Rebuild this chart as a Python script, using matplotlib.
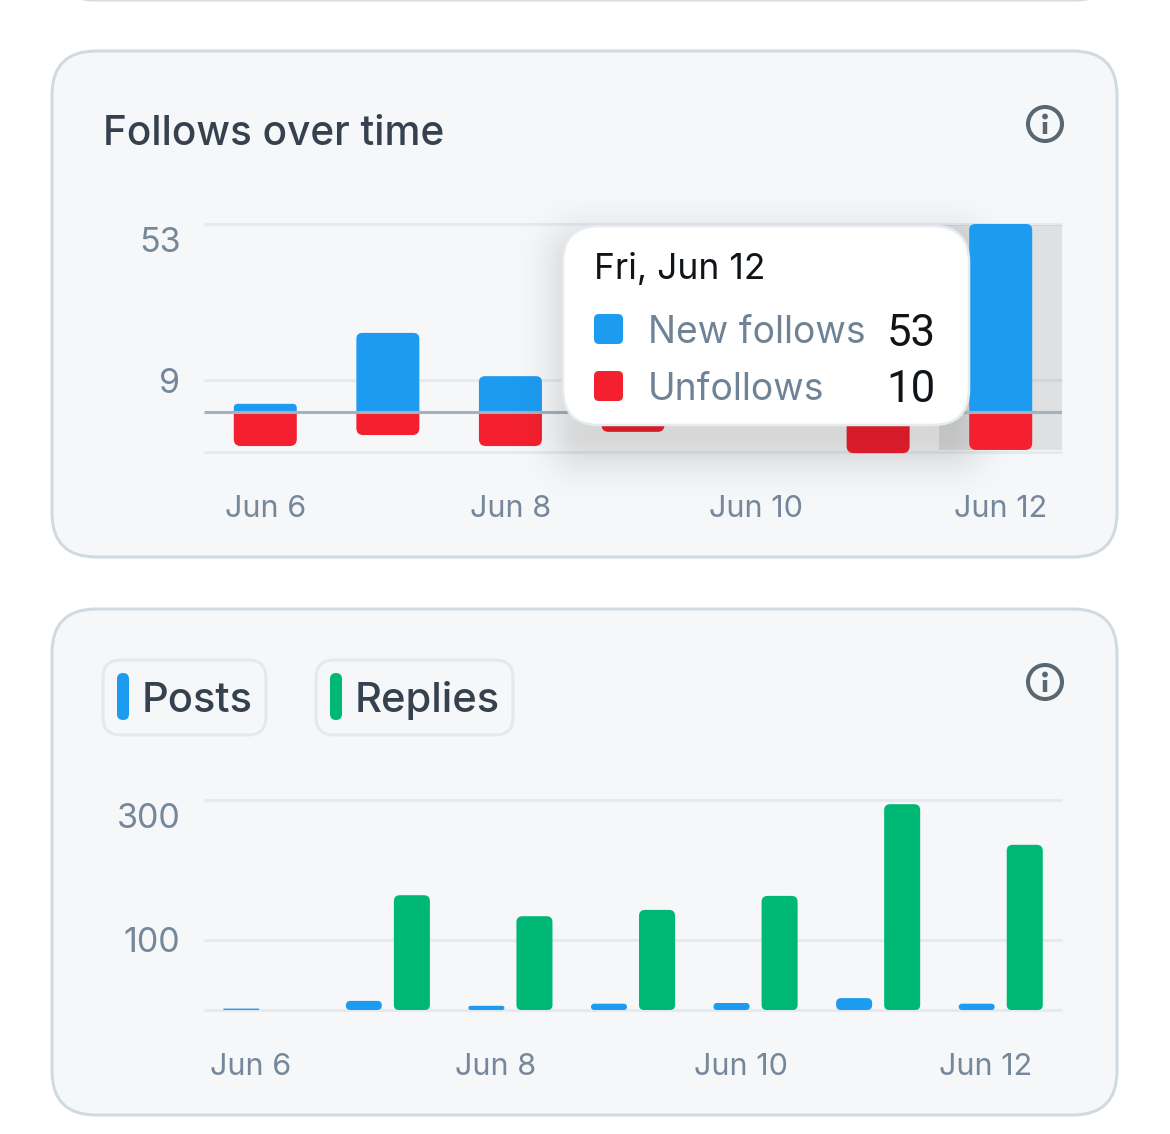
import numpy as np
from matplotlib import pyplot as plt
from matplotlib.patches import FancyBboxPatch, PathPatch, Circle, Rectangle
from matplotlib.path import Path
from matplotlib.transforms import ScaledTranslation

W, H = 1170, 1134
DPI = 100

days = [6, 7, 8, 9, 10, 11, 12]
day_labels = ["Jun 6", "Jun 8", "Jun 10", "Jun 12"]
day_ticks = [6, 8, 10, 12]

new_follows = [2.3, 22.3, 10.1, 12, 8, 30, 53]
unfollows = [9.6, 6.5, 9.6, 5.6, 3, 11.6, 10.7]
follow_ticks = [9, 53]

posts = [2, 13, 6, 9, 10, 17, 9]
replies = [0, 164, 134, 143, 163, 294, 236]
activity_ticks = [100, 300]

tooltip_rows = [("New follows", "53", "#1d9bf0"), ("Unfollows", "10", "#f4202f")]

BLUE = "#1d9bf0"
RED = "#f4202f"
GREEN = "#00b875"
GRID = "#e6eaf0"
TICK = "#75879a"
DARK = "#36414f"
CARD = "#f6f7f8"
FONT = "Inter"


def px_axes(fig, left, top, right, bottom, zorder=1):
    ax = fig.add_axes([left / W, 1 - bottom / H, (right - left) / W, (bottom - top) / H], zorder=zorder)
    ax.patch.set_alpha(0)
    return ax


def page_axes(fig, zorder):
    ax = px_axes(fig, 0, 0, W, H, zorder=zorder)
    ax.set_xlim(0, W)
    ax.set_ylim(H, 0)
    ax.axis("off")
    return ax


def rounded_bar(ax, x, width, y0, y1, color, r_base, r_tip, zorder=3):
    # bar in data coords, corners given in pixels
    p = ax.transData.transform([[0, 0], [1, 1]])
    ux, uy = abs(p[1, 0] - p[0, 0]), abs(p[1, 1] - p[0, 1])
    h = abs(y1 - y0)
    if h == 0:
        return
    sign = 1 if y1 > y0 else -1
    r_base = min(r_base, h * uy / 2)
    r_tip = min(r_tip, h * uy / 2)
    bx, by = r_base / ux, r_base / uy * sign
    tx, ty = r_tip / ux, r_tip / uy * sign
    l, r = x - width / 2, x + width / 2
    verts = [(l + bx, y0), (r - bx, y0), (r, y0), (r, y0 + by), (r, y1 - ty), (r, y1), (r - tx, y1),
             (l + tx, y1), (l, y1), (l, y1 - ty), (l, y0 + by), (l, y0), (l + bx, y0), (l + bx, y0)]
    L, Q = Path.LINETO, Path.CURVE3
    codes = [Path.MOVETO, L, Q, Q, L, Q, Q, L, Q, Q, L, Q, Q, Path.CLOSEPOLY]
    ax.add_patch(PathPatch(Path(verts, codes), fc=color, ec="none", zorder=zorder, clip_on=False))


def rbox(ax, x0, y0, x1, y1, r, fc, ec="none", lw=0, zorder=1):
    ax.add_patch(FancyBboxPatch((x0, y0), x1 - x0, y1 - y0, boxstyle=f"round,pad=0,rounding_size={r}",
                                fc=fc, ec=ec, lw=lw * 72 / DPI, zorder=zorder, clip_on=False))


def info_icon(ax, cx, cy):
    ax.add_patch(Circle((cx, cy), 17, fc="none", ec="#596773", lw=2.9))
    ax.plot([cx, cx], [cy - 2, cy + 10], color="#596773", lw=3.2, solid_capstyle="butt")
    ax.add_patch(Circle((cx, cy - 7.5), 2.9, fc="#596773", ec="none"))


def style_axis(ax, yticks, dx_labels):
    ax.set_xlim(5.5, 12.5)
    ax.set_yticks(yticks)
    ax.set_yticklabels([str(t) for t in yticks], fontsize=24.5, color=TICK, family=FONT)
    ax.set_xticks(day_ticks)
    ax.set_xticklabels(day_labels, fontsize=22, color=TICK, family=FONT)
    ax.tick_params(axis="both", length=0)
    ax.tick_params(axis="y", pad=17)
    ax.tick_params(axis="x", pad=31)
    for s in ax.spines.values():
        s.set_visible(False)
    ax.grid(axis="y", color=GRID, lw=2.2, zorder=1)
    ax.set_axisbelow(True)
    for ln in ax.get_ygridlines():
        ln.set_clip_on(False)
        ln.set_solid_capstyle("butt")
    # x labels sit a bit off the day centre, top y label is pushed under its line
    off = ScaledTranslation(dx_labels / DPI, 0, ax.figure.dpi_scale_trans)
    for lab in ax.get_xticklabels():
        lab.set_transform(lab.get_transform() + off)
    down = ScaledTranslation(0, -15 / DPI, ax.figure.dpi_scale_trans)
    top_lab = ax.get_yticklabels()[-1]
    top_lab.set_transform(top_lab.get_transform() + down)


def soft_shadow(ax, x0, y0, x1, y1, strength, sigma):
    # black image whose alpha falls off with the distance from a box
    yy, xx = np.mgrid[y0 - 120:y1 + 120, x0 - 120:x1 + 120]
    dx = np.maximum(np.maximum(x0 - xx, xx - x1), 0)
    dy = np.maximum(np.maximum(y0 - yy, yy - y1), 0)
    img = np.zeros(xx.shape + (4,))
    img[..., 3] = strength * np.exp(-(dx ** 2 + dy ** 2) / (2 * sigma ** 2))
    ax.imshow(img, extent=(x0 - 120, x1 + 120, y1 + 120, y0 - 120), aspect="auto", interpolation="bilinear")
    ax.set_xlim(0, W)
    ax.set_ylim(H, 0)


fig = plt.figure(figsize=(W / DPI, H / DPI), dpi=DPI, facecolor="white")

# page layer, pixel coords
bg = page_axes(fig, 0)
rbox(bg, 58, -120, 1112, 0, 36, "white", "#d3dcdf", 3)
rbox(bg, 52, 51, 1117, 557, 44, CARD, "#cfdbe0", 3)
rbox(bg, 52, 609, 1117, 1115, 44, CARD, "#cfdbe0", 3)
bg.text(103, 130, "Follows over time", fontsize=29.2, color=DARK, family=FONT, weight="medium", va="center_baseline")
info_icon(bg, 1045, 124)
info_icon(bg, 1045, 682)

rbox(bg, 103, 660, 266, 735, 18, CARD, "#e4e9ed", 3)
rbox(bg, 316, 660, 513, 735, 18, CARD, "#e4e9ed", 3)
rbox(bg, 117, 673, 129, 720, 6, BLUE)
rbox(bg, 330, 673, 342, 720, 6, GREEN)
bg.text(141.5, 697, "Posts", fontsize=30, color=DARK, family=FONT, weight="medium", va="center_baseline")
bg.text(354.5, 697, "Replies", fontsize=30, color=DARK, family=FONT, weight="medium", va="center_baseline")

# follows chart
ax1 = px_axes(fig, 204, 224, 1062, 452)
ax1.set_ylim(-11.28, 53)
style_axis(ax1, [-11.28] + follow_ticks, 0)
ax1.get_yticklabels()[0].set_visible(False)
ax1.add_patch(Rectangle((11.5, -10.7), 1, 63.3, fc="#000000", alpha=0.09, ec="none", zorder=2))
for d, n, u in zip(days[:-1], new_follows[:-1], unfollows[:-1]):
    rounded_bar(ax1, d, 0.514, 0, n, BLUE, 0, 6)
    rounded_bar(ax1, d, 0.514, 0, -u, RED, 0, 7)
ax1.axhline(0, color="#a4b2bf", lw=2.2, zorder=4, solid_capstyle="butt")

# tooltip shadow falls on every bar but the hovered one
shade = page_axes(fig, 2)
soft_shadow(shade, 585, 262, 947, 432, 0.13, 27)

ax1_top = px_axes(fig, 204, 224, 1062, 452, zorder=3)
ax1_top.set_xlim(5.5, 12.5)
ax1_top.set_ylim(-11.28, 53)
ax1_top.axis("off")
rounded_bar(ax1_top, days[-1], 0.514, 0, new_follows[-1], BLUE, 0, 6)
rounded_bar(ax1_top, days[-1], 0.514, 0, -unfollows[-1], RED, 0, 7)
ax1_top.plot([11.7, 12.3], [0, 0], color="#a4b2bf", lw=2.2, zorder=4, solid_capstyle="butt")

# posts / replies chart
ax2 = px_axes(fig, 204, 800, 1062, 1010)
ax2.set_ylim(0, 300)
style_axis(ax2, [0] + activity_ticks, -15)
ax2.get_yticklabels()[0].set_visible(False)
for d, p, r in zip(days, posts, replies):
    rounded_bar(ax2, d - 0.196, 0.294, 0, p, BLUE, 5, 5)
    rounded_bar(ax2, d + 0.196, 0.294, 0, r, GREEN, 5, 6)

# tooltip on top of everything
fg = page_axes(fig, 5)
rbox(fg, 563, 226, 969, 425, 36, "white", "#e6ebef", 2.5, zorder=2)
fg.text(594, 266, "Fri, Jun 12", fontsize=25.5, color="#0f1419", family=FONT, va="center_baseline", zorder=3)
for (name, val, col), yc in zip(tooltip_rows, [329, 386]):
    rbox(fg, 594, yc - 15, 623, yc + 15, 5, col, zorder=3)
    fg.text(648, yc, name, fontsize=26.8, color="#6f8396", family=FONT, va="center_baseline", zorder=3)
    fg.text(936, yc, val, fontsize=31.5, color="#0f1419", family="Roboto", ha="right", va="center_baseline", zorder=3)

fig.savefig("out.png", dpi=DPI, facecolor="white")
